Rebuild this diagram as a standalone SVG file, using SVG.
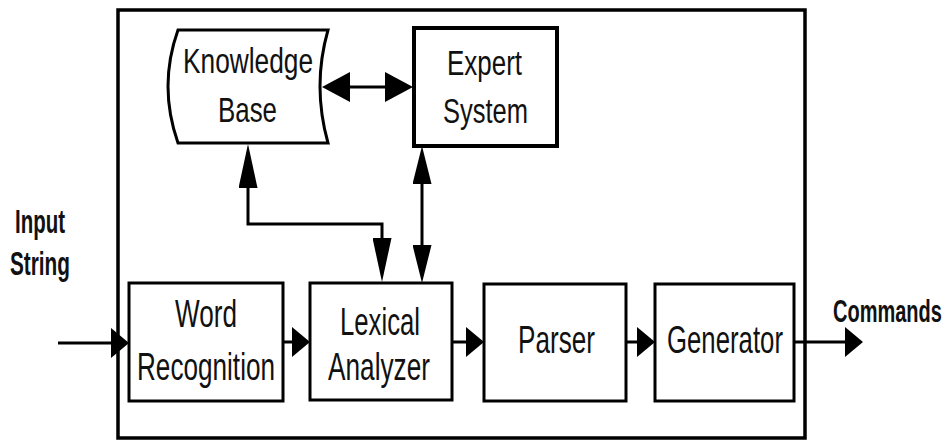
<svg xmlns="http://www.w3.org/2000/svg" width="950" height="441" viewBox="0 0 950 441">
  <style>
    .frame { fill: none; stroke: #000; stroke-width: 3.5; }
    .box { fill: #fff; stroke: #000; stroke-width: 3; }
    .box-heavy { fill: #fff; stroke: #000; stroke-width: 4; }
    .wire { fill: none; stroke: #000; stroke-width: 3; }
    .label { font-family: "Liberation Sans", Arial, sans-serif; font-size: 39px; fill: #111; }
    .label-top { font-family: "Liberation Sans", Arial, sans-serif; font-size: 35px; fill: #111; }
    .io { font-family: "Liberation Sans", Arial, sans-serif; font-size: 33px; font-weight: bold; fill: #111; }
  </style>
  <defs>
    <!-- short wide head for the horizontal flow -->
    <marker id="head-h" viewBox="0 0 18 30" refX="0" refY="15" markerWidth="18" markerHeight="30" markerUnits="userSpaceOnUse" orient="auto-start-reverse">
      <path d="M0,0 L18,15 L0,30 Z" fill="#000"/>
    </marker>
    <!-- head for the knowledge base / expert system link -->
    <marker id="head-kb" viewBox="0 0 28 30" refX="0" refY="15" markerWidth="28" markerHeight="30" markerUnits="userSpaceOnUse" orient="auto-start-reverse">
      <path d="M0,0 L28,15 L0,30 Z" fill="#000"/>
    </marker>
    <!-- long narrow heads for the vertical links -->
    <marker id="head-v" viewBox="0 0 38 19" refX="0" refY="9.5" markerWidth="38" markerHeight="19" markerUnits="userSpaceOnUse" orient="auto-start-reverse">
      <path d="M0,0 L38,9.5 L0,19 Z" fill="#000"/>
    </marker>
    <marker id="head-v-long" viewBox="0 0 44 19" refX="0" refY="9.5" markerWidth="44" markerHeight="19" markerUnits="userSpaceOnUse" orient="auto-start-reverse">
      <path d="M0,0 L44,9.5 L0,19 Z" fill="#000"/>
    </marker>
  </defs>

  <rect id="system-frame" class="frame" x="118" y="10" width="687" height="428"/>

  <g id="connectors">
    <path class="wire" d="M58,343 H111" marker-end="url(#head-h)"/>
    <path class="wire" d="M283,342 H292" marker-end="url(#head-h)"/>
    <path class="wire" d="M452,342 H466" marker-end="url(#head-h)"/>
    <path class="wire" d="M626,342 H637" marker-end="url(#head-h)"/>
    <path class="wire" d="M794,342 H845" marker-end="url(#head-h)"/>
    <path class="wire" d="M350,87 H385" marker-start="url(#head-kb)" marker-end="url(#head-kb)"/>
    <path class="wire" d="M248,188 V224 H382 V238" marker-start="url(#head-v-long)" marker-end="url(#head-v-long)"/>
    <path class="wire" d="M422,184 V245" marker-start="url(#head-v)" marker-end="url(#head-v)"/>
  </g>

  <g id="knowledge-base">
    <path class="box" d="M178,30 H328 Q312,86 328,143 H178 Q158,86 178,30 Z"/>
    <text class="label-top" x="183" y="73" textLength="130" lengthAdjust="spacingAndGlyphs">Knowledge</text>
    <text class="label-top" x="218" y="122" textLength="59" lengthAdjust="spacingAndGlyphs">Base</text>
  </g>

  <g id="expert-system">
    <rect class="box-heavy" x="414" y="28" width="143" height="118"/>
    <text class="label-top" x="447" y="75" textLength="75" lengthAdjust="spacingAndGlyphs">Expert</text>
    <text class="label-top" x="443" y="123" textLength="85" lengthAdjust="spacingAndGlyphs">System</text>
  </g>

  <g id="word-recognition">
    <rect class="box" x="129" y="283" width="154" height="118"/>
    <text class="label" x="175" y="327" textLength="62" lengthAdjust="spacingAndGlyphs">Word</text>
    <text class="label" x="137" y="380" textLength="138" lengthAdjust="spacingAndGlyphs">Recognition</text>
  </g>

  <g id="lexical-analyzer">
    <rect class="box" x="310" y="283" width="142" height="117"/>
    <text class="label" x="340" y="335" textLength="80" lengthAdjust="spacingAndGlyphs">Lexical</text>
    <text class="label" x="328" y="380" textLength="102" lengthAdjust="spacingAndGlyphs">Analyzer</text>
  </g>

  <g id="parser">
    <rect class="box" x="484" y="284" width="142" height="117"/>
    <text class="label" x="518" y="353" textLength="77" lengthAdjust="spacingAndGlyphs">Parser</text>
  </g>

  <g id="generator">
    <rect class="box" x="655" y="284" width="139" height="117"/>
    <text class="label" x="667" y="353" textLength="116" lengthAdjust="spacingAndGlyphs">Generator</text>
  </g>

  <g id="input-string">
    <text class="io" x="15" y="233" textLength="50" lengthAdjust="spacingAndGlyphs">Input</text>
    <text class="io" x="10" y="275" textLength="60" lengthAdjust="spacingAndGlyphs">String</text>
  </g>

  <g id="commands">
    <!-- narrow bold lettering: small size stretched upright -->
    <text class="io" transform="translate(833,322) scale(1,1.6)" x="0" y="0" style="font-size:20px">Commands</text>
  </g>
</svg>
